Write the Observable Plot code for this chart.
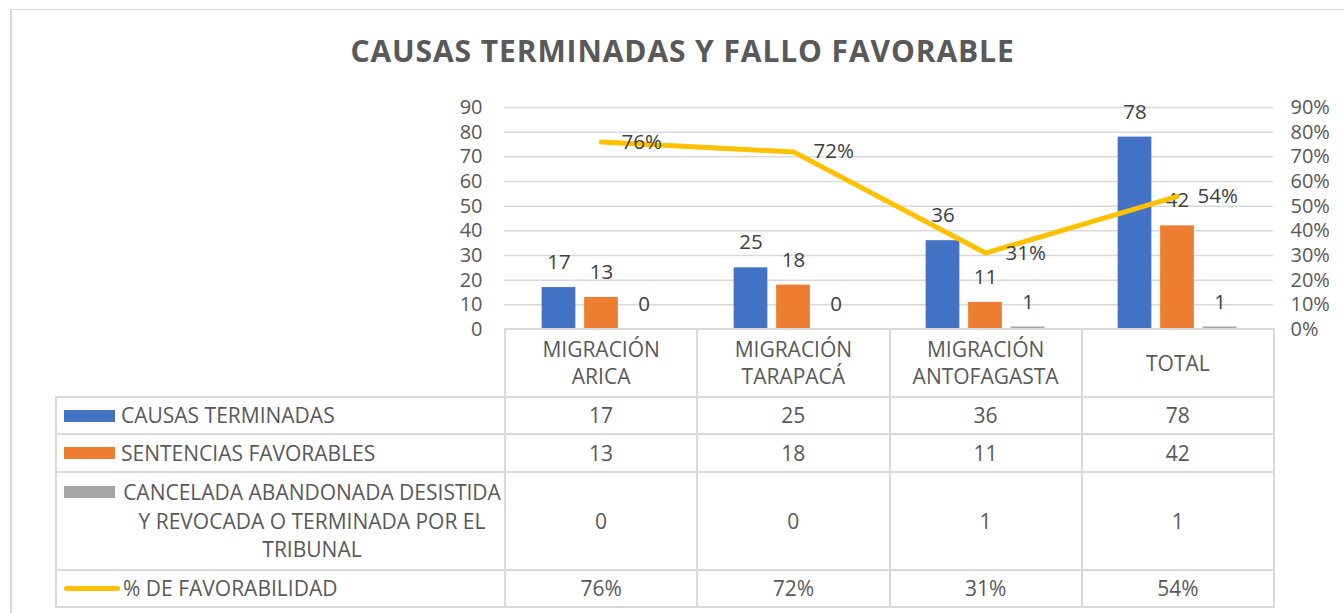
<!DOCTYPE html>
<html><head><meta charset="utf-8">
<script src="https://cdn.jsdelivr.net/npm/d3@7"></script>
<script src="https://cdn.jsdelivr.net/npm/@observablehq/plot@0.6"></script>
<style>
body{margin:0;background:#fff;font-family:"Open Sans",sans-serif;}
#wrap{position:relative;width:1344px;height:613px;overflow:hidden;background:#fff;}
#frame{position:absolute;left:10px;top:9px;width:1400px;height:700px;border-left:2px solid #d9d9d9;border-top:1px solid #d9d9d9;}
#title{position:absolute;left:10px;width:1345px;top:31px;text-align:center;font-weight:700;font-size:30px;letter-spacing:0.9px;color:#595959;line-height:40px;}
#chart{position:absolute;left:0;top:0;}
#tbl{position:absolute;left:55px;top:328px;border-collapse:collapse;table-layout:fixed;width:1220px;font-size:21px;color:#595959;}
#tbl td{border:2px solid #d9d9d9;text-align:center;vertical-align:middle;padding:0;line-height:27px;}
#tbl td.blank{border-top:none;border-left:none;}
#tbl td.leg{text-align:left;padding-left:7px;}
.legrow{display:flex;align-items:center;}
.legrow.multi{align-items:flex-start;}
.sw{width:51px;height:12px;flex:none;margin-right:6px;}
.sw.line{height:5px;border-radius:3px;width:56px;margin-right:3px;}
.multi .sw{margin-top:8px;}
.lt{width:382px;line-height:28.5px;}
.multi .lt{text-align:center;}
</style></head>
<body><div id="wrap"><div id="frame"></div><div id="title"></div><div id="chart"></div><table id="tbl"></table></div>
<script>
const chartTitle = "CAUSAS TERMINADAS Y FALLO FAVORABLE";
const categories = ["MIGRACIÓN ARICA","MIGRACIÓN TARAPACÁ","MIGRACIÓN ANTOFAGASTA","TOTAL"];
const categoryLines = [["MIGRACIÓN","ARICA"],["MIGRACIÓN","TARAPACÁ"],["MIGRACIÓN","ANTOFAGASTA"],["TOTAL"]];
const causasTerminadas = [17,25,36,78];
const sentenciasFavorables = [13,18,11,42];
const canceladas = [0,0,1,1];
const favorabilidad = [0.76,0.72,0.31,0.54];
const favorabilidadLabels = ["76%","72%","31%","54%"];
const seriesNames = ["CAUSAS TERMINADAS","SENTENCIAS FAVORABLES","CANCELADA ABANDONADA DESISTIDA Y REVOCADA O TERMINADA POR EL TRIBUNAL","% DE FAVORABILIDAD"];
const seriesColors = ["#4472C4","#ED7D31","#A5A5A5","#FFC000"];
const yTicks = [0,10,20,30,40,50,60,70,80,90];
const pctTickLabels = ["0%","10%","20%","30%","40%","50%","60%","70%","80%","90%"];

document.getElementById("title").textContent = chartTitle;

const barSeries = [causasTerminadas, sentenciasFavorables, canceladas];
// layout / bar geometry (style only)
const W = 1344, H = 613, mL = 504, mR = 71, mT = 107, mB = 613-329;
const band = (W - mL - mR) / categories.length;
const barW = 34, barStep = 42.5;

const marks = [
  Plot.ruleY(yTicks.slice(1), {stroke:"#d9d9d9", strokeWidth:1.5}),
  Plot.axisY(yTicks, {anchor:"left", tickSize:0, tickPadding:22, fontSize:20, fill:"#595959"}),
  Plot.axisY(yTicks, {anchor:"right", tickSize:0, tickPadding:17, fontSize:20, fill:"#595959", textAnchor:"start",
    tickFormat: d => pctTickLabels[yTicks.indexOf(d)]})
];
barSeries.forEach((vals, s) => {
  const data = categories.map((c, i) => ({cat:c, value:vals[i]}));
  const off = (s - 1) * barStep;
  const insetLeft = band/2 + off - barW/2;
  const insetRight = band/2 - off - barW/2;
  marks.push(Plot.barY(data, {x:"cat", y:"value", fill:seriesColors[s], insetLeft, insetRight}));
  marks.push(Plot.text(data, {x:"cat", y:"value", text: d => String(d.value), dx: off, dy:-25, fontSize:20.5, fill:"#404040"}));
});
const lineData = categories.map((c, i) => ({cat:c, pct:favorabilidad[i]*100, label:favorabilidadLabels[i]}));
marks.push(Plot.line(lineData, {x:"cat", y:"pct", stroke:"#FFC000", strokeWidth:5, strokeLinejoin:"miter", strokeLinecap:"round"}));
marks.push(Plot.text(lineData, {x:"cat", y:"pct", text:"label", dx:20, textAnchor:"start", fontSize:20.5, fill:"#404040"}));

const chart = Plot.plot({
  width: W, height: H,
  marginLeft: mL, marginRight: mR, marginTop: mT, marginBottom: mB,
  style: {fontFamily:"Open Sans, sans-serif", color:"#595959", background:"transparent", overflow:"visible"},
  x: {type:"band", domain: categories, padding:0, axis:null},
  y: {domain:[0,90], axis:null},
  marks
});
document.getElementById("chart").appendChild(chart);

// data table
const tbl = document.getElementById("tbl");
const colg = document.createElement("colgroup");
[449, band, band, band, band].forEach(w => { const c = document.createElement("col"); c.style.width = w + "px"; colg.appendChild(c); });
tbl.appendChild(colg);
const hr = document.createElement("tr"); hr.style.height = "68px";
const blank = document.createElement("td"); blank.className = "blank"; hr.appendChild(blank);
categoryLines.forEach(lines => { const td = document.createElement("td"); td.innerHTML = lines.join("<br>"); hr.appendChild(td); });
tbl.appendChild(hr);
const rowVals = [causasTerminadas, sentenciasFavorables, canceladas, favorabilidadLabels];
const rowHeights = [37, 38, 98, 37];
seriesNames.forEach((name, s) => {
  const tr = document.createElement("tr"); tr.style.height = rowHeights[s] + "px";
  const td = document.createElement("td"); td.className = "leg";
  const row = document.createElement("div"); row.className = "legrow" + (s === 2 ? " multi" : "");
  const sw = document.createElement("div"); sw.className = "sw" + (s === 3 ? " line" : ""); sw.style.background = seriesColors[s];
  const lt = document.createElement("div"); lt.className = "lt"; lt.textContent = name;
  row.appendChild(sw); row.appendChild(lt); td.appendChild(row); tr.appendChild(td);
  rowVals[s].forEach(v => { const c = document.createElement("td"); c.textContent = String(v); tr.appendChild(c); });
  tbl.appendChild(tr);
});
</script>
</body></html>
